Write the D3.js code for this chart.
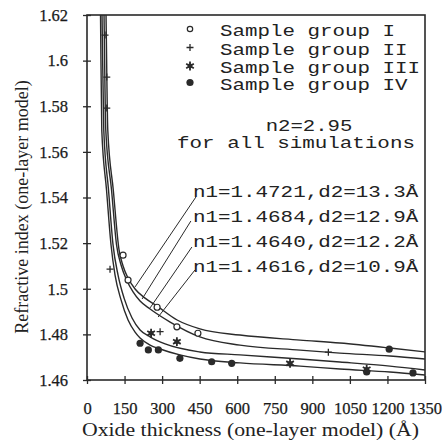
<!DOCTYPE html>
<head>
  <meta charset="utf-8">
  <style>
    body { margin: 0; background: #fff; }
    svg { display: block; }
    .tick text { font-family: 'Liberation Serif', serif; font-size: 16.5px; fill: #1a1a1a; stroke: #1a1a1a; stroke-width: .25px; }
    .mono { font-family: 'Liberation Mono', monospace; font-size: 16px; fill: #222; }
    .title { font-family: 'Liberation Serif', serif; fill: #222; }
  </style>
  <script src="https://cdn.jsdelivr.net/npm/d3@7"></script>
</head>
<body>
<div id=chart></div>
<script>
// measured points, oxide thickness (Å) / refractive index
const group1_d = [144, 164, 280, 359, 443]
const group1_n = [1.5147, 1.5038, 1.4919, 1.4833, 1.4805]
const group2_d = [72, 79, 79, 92, 292, 964]
const group2_n = [1.6112, 1.5928, 1.5792, 1.5086, 1.4812, 1.4722]
const group3_d = [256, 359, 811, 1117]
const group3_n = [1.4805, 1.4768, 1.4673, 1.4647]
const group4_d = [212, 245, 285, 371, 498, 578, 1117, 1207, 1302]
const group4_n = [1.4761, 1.4732, 1.4732, 1.4695, 1.4680, 1.4673, 1.4635, 1.4735, 1.4631]

// simulated curves (two-layer structure fitted with one-layer model)
const fit1_d = [74, 76, 83, 105, 128, 144, 164, 192, 232, 280, 360, 451, 611, 851, 1010, 1210, 1350]
const fit1_n = [1.634, 1.62, 1.5696, 1.5433, 1.5170, 1.5100, 1.5047, 1.4999, 1.4959, 1.4924, 1.4863, 1.4824, 1.4797, 1.4775, 1.4762, 1.4740, 1.4723]
const fit2_d = [66, 68, 75, 98, 118, 136, 160, 184, 212, 252, 332, 451, 611, 851, 1010, 1210, 1350]
const fit2_n = [1.634, 1.62, 1.5696, 1.5433, 1.5192, 1.5104, 1.5034, 1.4986, 1.4946, 1.4911, 1.4854, 1.4789, 1.4753, 1.4731, 1.4718, 1.4705, 1.4692]
const fit3_d = [58, 60, 67, 86, 104, 124, 148, 180, 212, 252, 312, 451, 611, 851, 1010, 1210, 1350]
const fit3_n = [1.634, 1.62, 1.5696, 1.5433, 1.5192, 1.5060, 1.4959, 1.4872, 1.4819, 1.4789, 1.4758, 1.4723, 1.4710, 1.4692, 1.4679, 1.4661, 1.4644]
const fit4_d = [52, 54, 59, 78, 96, 112, 136, 164, 192, 212, 252, 292, 371, 451, 611, 851, 1010, 1210, 1350]
const fit4_n = [1.64, 1.62, 1.5696, 1.5433, 1.5192, 1.5060, 1.4951, 1.4863, 1.4810, 1.4784, 1.4753, 1.4736, 1.4710, 1.4692, 1.4675, 1.4661, 1.4648, 1.4635, 1.4622]

const groupNames = ['Sample group I', 'Sample group II', 'Sample group III', 'Sample group IV']
const fitLabels = ['n1=1.4721,d2=13.3Å', 'n1=1.4684,d2=12.9Å', 'n1=1.4640,d2=12.2Å', 'n1=1.4616,d2=10.9Å']
const noteLines = ['n2=2.95', 'for all simulations']
// leader lines: label end -> curve, in data units
const leaderFrom = [[435, 1.5402], [415, 1.5297], [419, 1.5183], [431, 1.5082]]
const leaderTo = [[192, 1.5008], [220, 1.4955], [252, 1.4916], [284, 1.4876]]

const thicknessTicks = [0, 150, 300, 450, 600, 750, 900, 1050, 1200, 1350]
const indexTicks = [1.46, 1.48, 1.5, 1.52, 1.54, 1.56, 1.58, 1.6, 1.62]
const indexTickLabels = ['1.46', '1.48', '1.5', '1.52', '1.54', '1.56', '1.58', '1.6', '1.62']

const width = 448, height = 440
const margin = { top: 15, right: 23, bottom: 60, left: 87 }
const ink = '#2a2a2a'
const charW = 12.6 // the scanned typewriter text is wide

const svg = d3.select('#chart').append('svg')
  .attr('width', width).attr('height', height)
  .attr('viewBox', [0, 0, width, height])

const x = d3.scaleLinear().domain([0, 1350]).range([margin.left, width - margin.right])
const y = d3.scaleLinear().domain([1.46, 1.62]).range([height - margin.bottom, margin.top])

svg.append('clipPath').attr('id', 'plot-clip')
  .append('rect')
  .attr('x', x(0)).attr('y', y(1.62))
  .attr('width', x(1350) - x(0)).attr('height', y(1.46) - y(1.62))

// axes, ticks crossing the line
svg.append('g')
  .attr('transform', `translate(0,${y(1.46)})`)
  .call(d3.axisBottom(x).tickValues(thicknessTicks).tickSize(4).tickPadding(18).tickFormat(d3.format('d')))
  .call(g => g.select('.domain').remove())
  .call(g => g.selectAll('.tick line').attr('y1', -4).attr('stroke', ink).attr('stroke-width', 1.3))

svg.append('g')
  .attr('transform', `translate(${x(0)},0)`)
  .call(d3.axisLeft(y).tickValues(indexTicks).tickSize(4).tickPadding(15).tickFormat((d, i) => indexTickLabels[i]))
  .call(g => g.select('.domain').remove())
  .call(g => g.selectAll('.tick line').attr('x1', 4).attr('stroke', ink).attr('stroke-width', 1.3))

svg.selectAll('.tick text').attr('font-family', null).attr('font-size', null)

// frame
svg.append('rect')
  .attr('x', x(0)).attr('y', y(1.62))
  .attr('width', x(1350) - x(0)).attr('height', y(1.46) - y(1.62))
  .attr('fill', 'none').attr('stroke', ink).attr('stroke-width', 1.6)

// fitted curves
const fits = [[fit1_d, fit1_n], [fit2_d, fit2_n], [fit3_d, fit3_n], [fit4_d, fit4_n]]
const line = d3.line().x(p => x(p[0])).y(p => y(p[1])).curve(d3.curveMonotoneX)
svg.append('g').attr('clip-path', 'url(#plot-clip)')
  .selectAll('path').data(fits).join('path')
  .attr('d', ([ds, ns]) => line(ds.map((d, i) => [d, ns[i]])))
  .attr('fill', 'none').attr('stroke', ink).attr('stroke-width', 1.4)

// markers
const marker = (g, kind, cx, cy, s = 1) => {
  if (kind === 0) {
    g.append('circle').attr('cx', cx).attr('cy', cy).attr('r', 3 * s)
      .attr('fill', '#fff').attr('stroke', ink).attr('stroke-width', 1.2)
  } else if (kind === 1) {
    g.append('path').attr('d', `M${cx - 3.5 * s},${cy}H${cx + 3.5 * s}M${cx},${cy - 3.5 * s}V${cy + 3.5 * s}`)
      .attr('stroke', ink).attr('stroke-width', 1.3)
  } else if (kind === 2) {
    g.append('path').attr('d', d3.symbol(d3.symbolAsterisk, 55 * s * s)())
      .attr('transform', `translate(${cx},${cy})`)
      .attr('fill', 'none').attr('stroke', ink).attr('stroke-width', 1.8)
    g.append('circle').attr('cx', cx).attr('cy', cy).attr('r', 2.4 * s).attr('fill', ink)
  } else {
    g.append('circle').attr('cx', cx).attr('cy', cy).attr('r', 3.6 * s).attr('fill', ink)
  }
}

const groups = [[group1_d, group1_n], [group2_d, group2_n], [group3_d, group3_n], [group4_d, group4_n]]
const gMarks = svg.append('g')
groups.forEach(([ds, ns], k) => ds.forEach((d, i) => marker(gMarks, k, x(d), y(ns[i]))))

// typewriter text, stretched to the scan's width
const mono = (tx, ty, t, anchor = 'start') => svg.append('text').attr('class', 'mono')
  .attr('x', tx).attr('y', ty).attr('text-anchor', anchor)
  .attr('textLength', t.length * charW - 1.5).attr('lengthAdjust', 'spacingAndGlyphs')
  .text(t)

// legend
const legendRows = [30, 48.5, 67, 83.5]
groupNames.forEach((name, i) => {
  marker(svg, i, 190, legendRows[i] - 1, i === 0 ? 0.9 : 1)
  mono(220, legendRows[i] + 6, name)
})

// notes
mono(309, 131, noteLines[0], 'middle')
mono(296, 148, noteLines[1], 'middle')

const labelBase = [197, 221.5, 246.5, 271.5]
fitLabels.forEach((t, i) => mono(193, labelBase[i], t))
svg.append('g').selectAll('line').data(leaderFrom).join('line')
  .attr('x1', d => x(d[0])).attr('y1', d => y(d[1]))
  .attr('x2', (d, i) => x(leaderTo[i][0])).attr('y2', (d, i) => y(leaderTo[i][1]))
  .attr('stroke', ink).attr('stroke-width', 1)

// axis titles
svg.append('text').attr('class', 'title')
  .attr('x', 250.5).attr('y', 436)
  .attr('text-anchor', 'middle').attr('font-size', 19)
  .attr('textLength', 337).attr('lengthAdjust', 'spacingAndGlyphs')
  .text('Oxide thickness (one-layer model) (Å)')

svg.append('text').attr('class', 'title')
  .attr('transform', 'translate(28,207) rotate(-90)')
  .attr('text-anchor', 'middle').attr('font-size', 18)
  .text('Refractive index (one-layer model)')
</script>
</body>
